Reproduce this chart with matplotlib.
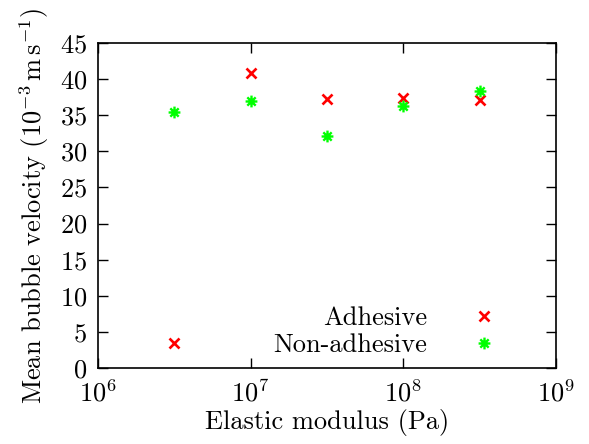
import numpy as np
import matplotlib
matplotlib.use("Agg")
import matplotlib.pyplot as plt
from matplotlib.path import Path

plt.rcParams.update({
    "font.family": "cmr10",
    "mathtext.fontset": "cm",
    "axes.formatter.use_mathtext": True,
    "font.size": 19,
    "axes.linewidth": 1.2,
})

# ---- data ----
modulus = np.array([10**6.5, 1e7, 10**7.5, 1e8, 10**8.5])
adhesive = np.array([3.5, 40.8, 37.3, 37.4, 37.1])
non_adhesive = np.array([35.4, 36.9, 32.1, 36.3, 38.3])

# gnuplot-style asterisk (plus + cross)
s = 0.7071
star = Path(
    [(-1, 0), (1, 0), (0, -1), (0, 1), (-s, -s), (s, s), (-s, s), (s, -s)],
    [Path.MOVETO, Path.LINETO] * 4,
)

fig = plt.figure(figsize=(5.89, 4.44), dpi=100)
ax = fig.add_axes([0.1664, 0.1712, 0.7776, 0.732])

ax.plot(modulus, adhesive, ls="none", marker="x", ms=7, mew=1.9,
        color="#ff0000", label="Adhesive")
ax.plot(modulus, non_adhesive, ls="none", marker=star, ms=8.5, mew=1.7,
        color="#00ff00", label="Non-adhesive")

ax.set_xscale("log")
ax.set_xlim(1e6, 1e9)
ax.set_ylim(0, 45)
ax.set_yticks(np.arange(0, 46, 5))
ax.minorticks_off()
ax.tick_params(direction="in", top=True, right=True, length=7, width=1.0, pad=8)
ax.set_xlabel("Elastic modulus (Pa)", labelpad=2)
ax.set_ylabel(r"Mean bubble velocity $(10^{-3}\,\mathrm{m\,s}^{-1})$", labelpad=6)

ax.legend(loc="lower right", bbox_to_anchor=(0.895, 0.0), frameon=False,
          markerfirst=False, handlelength=1.0, handletextpad=1.67,
          labelspacing=0.15, borderaxespad=0.0)

fig.savefig("out.png", dpi=100)
